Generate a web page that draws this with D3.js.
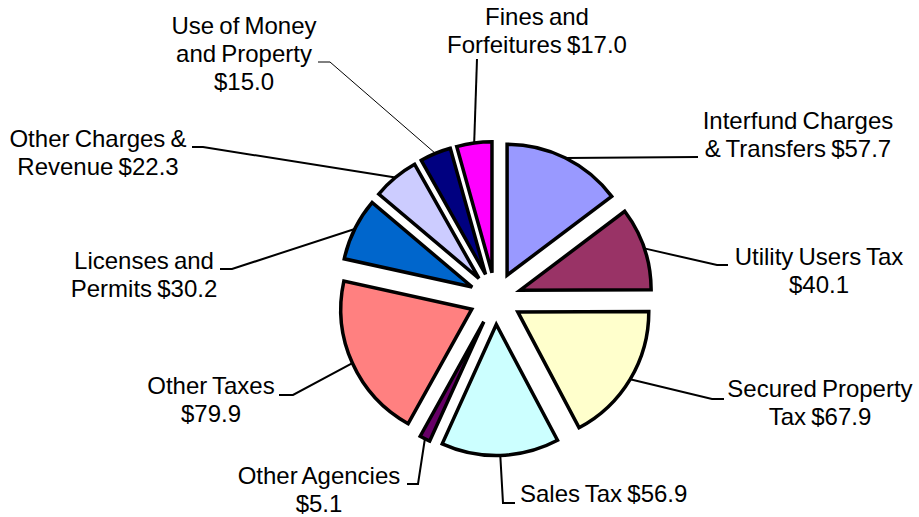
<!DOCTYPE html>
<html>
<head>
<meta charset="utf-8">
<script src="https://cdn.jsdelivr.net/npm/d3@7"></script>
<style>
  html, body { margin: 0; padding: 0; background: #fff; }
  svg { display: block; }
  text { font-family: "Liberation Sans", Arial, sans-serif; font-size: 24px; word-spacing: -1.5px; fill: #000; }
</style>
</head>
<body>
<svg id="chart" width="919" height="517"></svg>
<script>
// ---- data ----
const categories = [
  "Interfund Charges & Transfers", "Utility Users Tax", "Secured Property Tax",
  "Sales Tax", "Other Agencies", "Other Taxes", "Licenses and Permits",
  "Other Charges & Revenue", "Use of Money and Property", "Fines and Forfeitures"
];
const values = [57.7, 40.1, 67.9, 56.9, 5.1, 79.9, 30.2, 22.3, 15.0, 17.0];
// label text split into lines; the value is appended to the last line
const labelLines = [
  ["Interfund Charges", "& Transfers"],
  ["Utility Users Tax", ""],
  ["Secured Property", "Tax"],
  ["Sales Tax"],
  ["Other Agencies", ""],
  ["Other Taxes", ""],
  ["Licenses and", "Permits"],
  ["Other Charges &", "Revenue"],
  ["Use of Money", "and Property", ""],
  ["Fines and", "Forfeitures"]
];

// ---- styling / layout ----
const colors = ["#9999FF", "#993366", "#FFFFCC", "#CCFFFF", "#660066",
                "#FF8080", "#0066CC", "#CCCCFF", "#000080", "#FF00FF"];
const cx = 495.5, cy = 298.5, radius = 131, explode = 26, lineH = 28;
// label anchor (center x, first baseline y, text-anchor) and leader bends
const labelLayout = [
  { x: 798, y: 129, anchor: "middle", bends: [[698, 157]], w: 2 },
  { x: 819, y: 265, anchor: "middle", bends: [[717, 265], [728, 265]], w: 2 },
  { x: 820, y: 397, anchor: "middle", bends: [[712, 399], [724, 399]], w: 2 },
  { x: 520, y: 502, anchor: "start",  bends: [[503, 503], [515, 503]], w: 2 },
  { x: 319, y: 484, anchor: "middle", bends: [[418, 484], [407, 484]], w: 2 },
  { x: 211, y: 394, anchor: "middle", bends: [[293, 395], [279, 395]], w: 2 },
  { x: 144, y: 269, anchor: "middle", bends: [[232, 269], [220, 269]], w: 2 },
  { x: 98,  y: 147, anchor: "middle", bends: [[203, 147], [192, 147]], w: 2 },
  { x: 244, y: 33.5, anchor: "middle", bends: [[330, 62], [318, 62]], w: 1 },
  { x: 537, y: 25,  anchor: "middle", bends: [[477, 59]], w: 2 }
];

const fmt = d3.format(".1f");
const data = categories.map((c, i) => ({ name: c, value: values[i], i }));

const svg = d3.select("#chart");
const pie = d3.pie().sort(null).value(d => d.value).startAngle(0).endAngle(2 * Math.PI);
const arc = d3.arc().innerRadius(0).outerRadius(radius);
const arcs = pie(data);

const g = svg.append("g").attr("transform", `translate(${cx},${cy})`);

function offset(a) {
  const mid = (a.startAngle + a.endAngle) / 2;
  return [explode * Math.sin(mid), -explode * Math.cos(mid)];
}

// leader lines
arcs.forEach(a => {
  const mid = (a.startAngle + a.endAngle) / 2;
  const [ox, oy] = offset(a);
  const sx = cx + ox + radius * Math.sin(mid);
  const sy = cy + oy - radius * Math.cos(mid);
  const L = labelLayout[a.data.i];
  const pts = [[sx, sy]].concat(L.bends);
  svg.append("path")
    .attr("d", d3.line()(pts))
    .attr("fill", "none")
    .attr("stroke", "#000")
    .attr("stroke-width", L.w);
});

// slices
g.selectAll("path.slice")
  .data(arcs)
  .join("path")
  .attr("class", "slice")
  .attr("transform", a => { const [ox, oy] = offset(a); return `translate(${ox},${oy})`; })
  .attr("d", arc)
  .attr("fill", a => colors[a.data.i])
  .attr("stroke", "#000")
  .attr("stroke-width", 3.5)
  .attr("stroke-linejoin", "miter");

// labels
data.forEach((d, i) => {
  const L = labelLayout[i];
  const lines = labelLines[i].slice();
  const last = lines.length - 1;
  lines[last] = (lines[last] ? lines[last] + " " : "") + "$" + fmt(d.value);
  const t = svg.append("text").attr("text-anchor", L.anchor);
  lines.forEach((ln, k) => {
    t.append("tspan").attr("x", L.x).attr("y", L.y + k * lineH).text(ln);
  });
});
</script>
</body>
</html>
